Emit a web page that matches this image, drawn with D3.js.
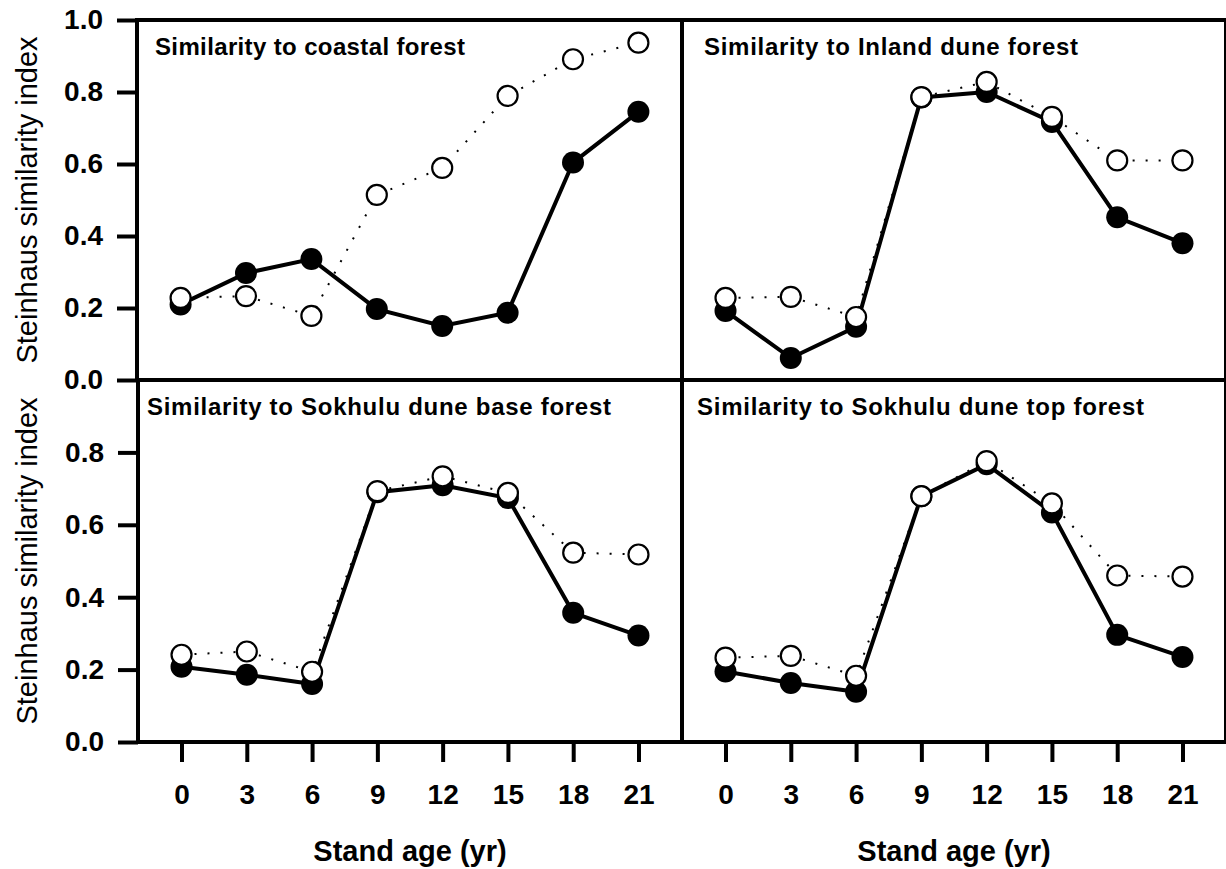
<!DOCTYPE html>
<html>
<head>
<meta charset="utf-8">
<script src="https://cdn.jsdelivr.net/npm/d3@7"></script>
<style>
  html, body { margin: 0; padding: 0; background: #fff; }
  svg { display: block; }
  text { font-family: "Liberation Sans", Arial, sans-serif; fill: #000; }
</style>
</head>
<body>
<svg id="chart" width="1226" height="869"></svg>
<script>
// ---- data ----
const ages = [0, 3, 6, 9, 12, 15, 18, 21];
const xTickLabels = ["0", "3", "6", "9", "12", "15", "18", "21"];
const topYTicks = [0, 0.2, 0.4, 0.6, 0.8, 1.0];
const bottomYTicks = [0, 0.2, 0.4, 0.6, 0.8];

const panelTitles = [
  "Similarity to coastal forest",
  "Similarity to Inland dune forest",
  "Similarity to Sokhulu dune base forest",
  "Similarity to Sokhulu dune top forest"
];

const coastalFilled = [0.21, 0.297, 0.336, 0.197, 0.15, 0.187, 0.604, 0.745];
const coastalOpen   = [0.228, 0.233, 0.178, 0.514, 0.589, 0.789, 0.891, 0.937];
const inlandFilled  = [0.192, 0.061, 0.148, 0.785, 0.80, 0.717, 0.452, 0.38];
const inlandOpen    = [0.228, 0.231, 0.175, 0.786, 0.828, 0.731, 0.61, 0.61];
const baseFilled    = [0.208, 0.186, 0.16, 0.69, 0.709, 0.674, 0.357, 0.294];
const baseOpen      = [0.241, 0.25, 0.194, 0.693, 0.734, 0.688, 0.523, 0.518];
const topFilled     = [0.195, 0.163, 0.139, 0.679, 0.767, 0.634, 0.296, 0.235];
const topOpen       = [0.233, 0.238, 0.183, 0.679, 0.776, 0.659, 0.46, 0.457];

const yTitle = "Steinhaus similarity index";
const xTitle = "Stand age (yr)";

// ---- layout ----
const svg = d3.select("#chart");
const panels = [
  { title: panelTitles[0], filled: coastalFilled, open: coastalOpen, x0: 137, x1: 682, y0: 20, y1: 380, tx: 155, tw: 310, yTicks: topYTicks, xAxis: false },
  { title: panelTitles[1], filled: inlandFilled, open: inlandOpen, x0: 682, x1: 1226, y0: 20, y1: 380, tx: 704, tw: 374, yTicks: null, xAxis: false },
  { title: panelTitles[2], filled: baseFilled, open: baseOpen, x0: 138, x1: 682, y0: 380, y1: 742, tx: 147, tw: 464, yTicks: bottomYTicks, xAxis: true },
  { title: panelTitles[3], filled: topFilled, open: topOpen, x0: 682, x1: 1226, y0: 380, y1: 742, tx: 697, tw: 447, xAxis: true, yTicks: null }
];

panels.forEach(p => {
  const x = d3.scaleLinear().domain([-2, 23]).range([p.x0, p.x1]);
  const y = d3.scaleLinear().domain([0, 1]).range([p.y1, p.y0]);
  const g = svg.append("g");

  // y axis
  if (p.yTicks) {
    const ax = g.append("g")
      .attr("transform", `translate(${p.x0},0)`)
      .call(d3.axisLeft(y).tickValues(p.yTicks).tickFormat(d3.format(".1f")).tickSize(20).tickPadding(14));
    ax.select(".domain").remove();
    ax.selectAll(".tick line").attr("stroke", "#000").attr("stroke-width", 4);
    ax.selectAll(".tick text").attr("font-size", 28).attr("font-weight", "bold")
      .attr("font-family", "'Liberation Sans', Arial, sans-serif").attr("fill", "#000");
    g.append("text")
      .attr("transform", `translate(37,${(p.y0 + p.y1) / 2}) rotate(-90)`)
      .attr("text-anchor", "middle")
      .attr("font-size", 29)
      .text(yTitle);
  }

  // x axis
  if (p.xAxis) {
    const ax = g.append("g")
      .attr("transform", `translate(0,${p.y1})`)
      .call(d3.axisBottom(x).tickValues(ages).tickFormat((d, i) => xTickLabels[i]).tickSize(20).tickPadding(22));
    ax.select(".domain").remove();
    ax.selectAll(".tick line").attr("stroke", "#000").attr("stroke-width", 4);
    ax.selectAll(".tick text").attr("font-size", 28).attr("font-weight", "bold")
      .attr("font-family", "'Liberation Sans', Arial, sans-serif").attr("fill", "#000");
    g.append("text")
      .attr("x", (p.x0 + p.x1) / 2)
      .attr("y", 861)
      .attr("text-anchor", "middle")
      .attr("font-size", 29)
      .attr("font-weight", "bold")
      .text(xTitle);
  }

  // frame
  g.append("rect")
    .attr("x", p.x0).attr("y", p.y0)
    .attr("width", p.x1 - p.x0).attr("height", p.y1 - p.y0)
    .attr("fill", "none").attr("stroke", "#000").attr("stroke-width", 4);

  // title
  g.append("text")
    .attr("x", p.tx).attr("y", p.y0 + 35)
    .attr("font-size", 24).attr("font-weight", "bold")
    .attr("textLength", p.tw).attr("lengthAdjust", "spacing")
    .text(p.title);

  const line = d3.line().x((d, i) => x(ages[i])).y(d => y(d));

  g.append("path").datum(p.open)
    .attr("d", line).attr("fill", "none").attr("stroke", "#000")
    .attr("stroke-width", 2).attr("stroke-dasharray", "2 11");
  g.append("path").datum(p.filled)
    .attr("d", line).attr("fill", "none").attr("stroke", "#000")
    .attr("stroke-width", 4);

  g.selectAll(".f").data(p.filled).join("circle")
    .attr("cx", (d, i) => x(ages[i])).attr("cy", d => y(d))
    .attr("r", 11).attr("fill", "#000");
  g.selectAll(".o").data(p.open).join("circle")
    .attr("cx", (d, i) => x(ages[i])).attr("cy", d => y(d))
    .attr("r", 10).attr("fill", "#fff").attr("stroke", "#000").attr("stroke-width", 2.2);
});
</script>
</body>
</html>
